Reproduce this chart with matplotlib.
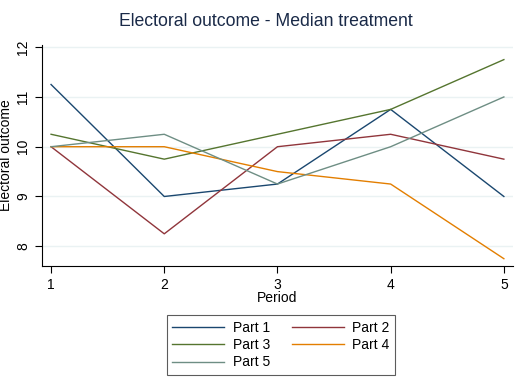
import matplotlib
matplotlib.use("Agg")
import matplotlib.pyplot as plt

plt.rcParams['font.family'] = ['Liberation Sans', 'DejaVu Sans']

periods = [1, 2, 3, 4, 5]
series_names = ["Part 1", "Part 2", "Part 3", "Part 4", "Part 5"]
part1 = [11.25, 9.0, 9.25, 10.75, 9.0]
part2 = [10.0, 8.25, 10.0, 10.25, 9.75]
part3 = [10.25, 9.75, 10.25, 10.75, 11.75]
part4 = [10.0, 10.0, 9.5, 9.25, 7.75]
part5 = [10.0, 10.25, 9.25, 10.0, 11.0]
yticks = [8, 9, 10, 11, 12]
colors = ["#1a476f", "#90353b", "#55752f", "#e37e00", "#6e8e84"]

fig = plt.figure(figsize=(5.25, 3.92), dpi=100)
ax = fig.add_axes([0.08, 0.321, 0.897, 0.565])

lines = []
for name, vals, c in zip(series_names, [part1, part2, part3, part4, part5], colors):
    ln, = ax.plot(periods, vals, color=c, lw=1.0, label=name)
    lines.append(ln)

ax.set_xlim(0.92, 5.08)
ax.set_ylim(7.6, 12.05)
ax.set_yticks(yticks)
ax.set_xticks(periods)
ax.grid(axis='y', color='#eaf2f3', lw=1.0)
ax.set_axisbelow(True)
for s in ['top', 'right']:
    ax.spines[s].set_visible(False)
for s in ['left', 'bottom']:
    ax.spines[s].set_color('black')
    ax.spines[s].set_linewidth(0.8)
ax.tick_params(axis='both', labelsize=10, length=5, width=0.8, colors='black')
for lbl in ax.get_yticklabels():
    lbl.set_rotation(90)
    lbl.set_va('center')
ax.set_xlabel("Period", fontsize=10, labelpad=-1)
ax.set_ylabel("Electoral outcome", fontsize=10, labelpad=2)
fig.text(266 / 525, 1 - 22 / 392, "Electoral outcome - Median treatment",
         fontsize=12.7, color='#1a2a48', ha='center', va='center')

order = [0, 2, 4, 1, 3]
leg = fig.legend([lines[i] for i in order], [series_names[i] for i in order],
                 ncol=2, loc='center', bbox_to_anchor=(281 / 525, 1 - 345 / 392),
                 fontsize=10, frameon=True, fancybox=False, edgecolor='#333333',
                 handlelength=3.75, handletextpad=0.6, columnspacing=1.6,
                 labelspacing=0.25, borderpad=0.4)
leg.get_frame().set_linewidth(0.8)

fig.savefig("out.png", dpi=100)
